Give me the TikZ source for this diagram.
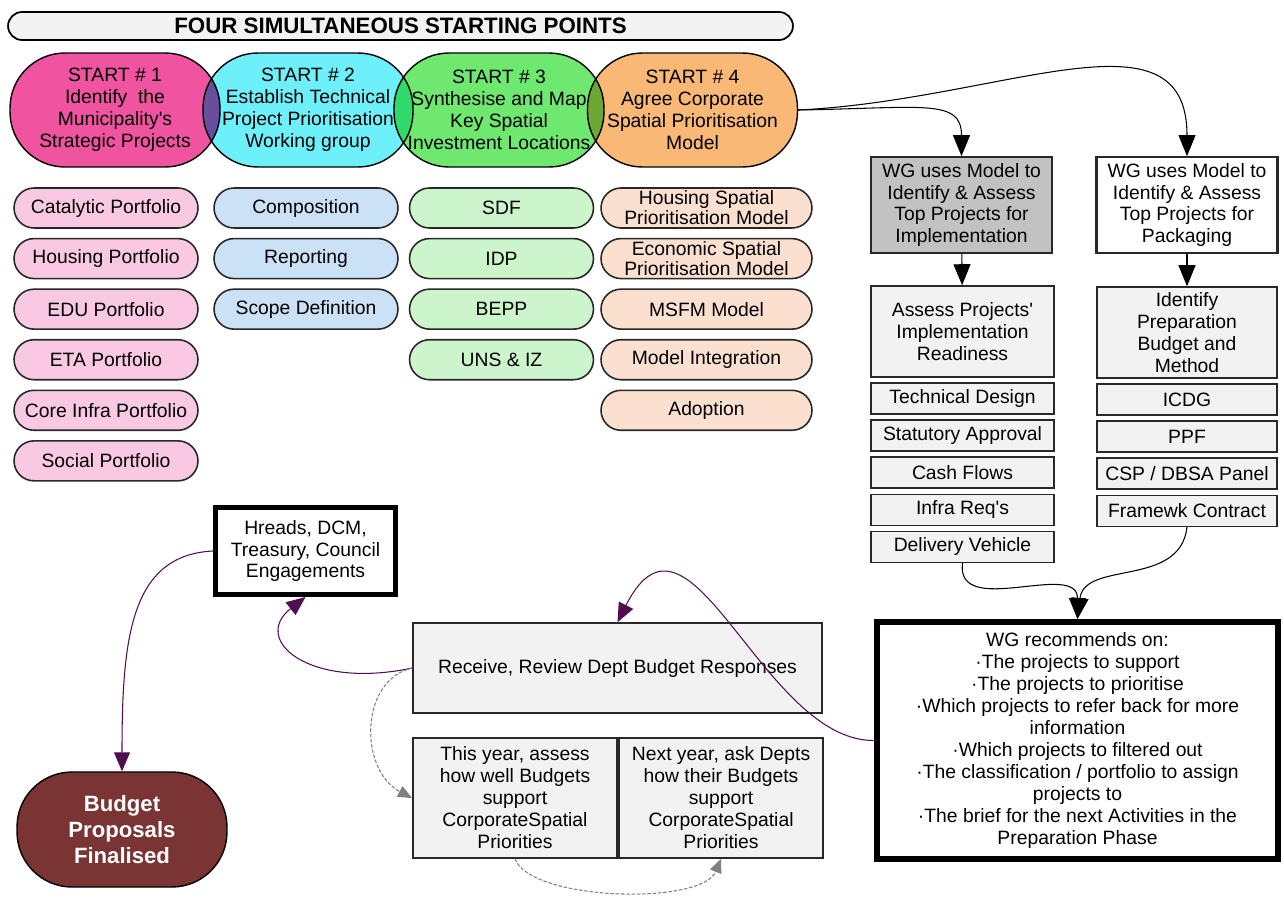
\documentclass[tikz,border=0pt]{standalone}
\usepackage{fontspec}
\setmainfont{Liberation Sans}[Ligatures=TeXOff]
\usetikzlibrary{%
	arrows.meta,%
	positioning,%
	calc,%
}
\definecolor{cpink}{RGB}{240, 84, 160}
\definecolor{cpinklight}{RGB}{249, 200, 226}
\definecolor{ccyan}{RGB}{110, 240, 250}
\definecolor{cbluelight}{RGB}{202, 225, 246}
\definecolor{cgreen}{RGB}{110, 232, 110}
\definecolor{cgreenlight}{RGB}{204, 245, 204}
\definecolor{corange}{RGB}{250, 184, 118}
\definecolor{cpeach}{RGB}{251, 224, 208}
\definecolor{cgrey}{RGB}{194, 194, 194}
\definecolor{cgreylight}{RGB}{242, 242, 242}
\definecolor{cmaroon}{RGB}{122, 52, 52}
\definecolor{cpurple}{RGB}{80, 14, 80}
\definecolor{cline}{RGB}{40, 40, 40}
\tikzset{
	>={Triangle[length=0.42cm, width=0.34cm]},%
	nodes={align=center, font={\fontsize{11}{12.5}\selectfont}},%
	banner/.style={%
			draw,%
			rectangle,%
			line width=1pt,%
			rounded corners=0.28cm,%
			minimum width=15.7cm,%
			minimum height=0.56cm,%
			fill=cgreylight,%
			font={\bfseries\fontsize{12.7}{14}\selectfont}},%
	startnode/.style={%
			draw,%
			rectangle,%
			line width=0.8pt,%
			rounded corners=1.1cm,%
			minimum width=4.2cm,%
			minimum height=2.28cm,%
			inner sep=0},%
	pill/.style={%
			draw=cline,%
			rectangle,%
			line width=0.9pt,%
			rounded corners=0.4cm,%
			minimum width=3.68cm,%
			minimum height=0.8cm,%
			inner ysep=0},%
	widepill/.style={%
			pill,%
			minimum width=4.22cm,%
			font={\fontsize{11}{11.3}\selectfont}},%
	wgbox/.style={%
			draw=cline,%
			rectangle,%
			line width=1.2pt,%
			minimum width=3.62cm,%
			minimum height=1.88cm},%
	stepbox/.style={%
			draw=cline,%
			rectangle,%
			line width=0.9pt,%
			fill=cgreylight,%
			minimum width=3.66cm,%
			minimum height=0.62cm,%
			inner ysep=0},%
	heavybox/.style={%
			draw,%
			rectangle,%
			fill=white},%
	flow/.style={->, cpurple, line width=0.6pt, >={Triangle[length=0.38cm, width=0.32cm]}},%
	link/.style={->, line width=0.6pt},%
	greylink/.style={->, gray, line width=0.6pt, dash pattern=on 2pt off 1pt, >={Triangle[length=0.28cm, width=0.24cm]}},%
}

\begin{document}
\begin{tikzpicture}[x=0.02cm, y=-0.02cm]
	\useasboundingbox (0,0) rectangle (1284,896);

	\node[banner] (title) at (400.5,26) {FOUR SIMULTANEOUS STARTING POINTS};

	\begin{scope}[blend group=multiply]
		\node[startnode, fill=cpink] (st1) at (115,110) {START \# 1\\Identify\ \ the\\Municipality's\\Strategic Projects};
		\node[startnode, fill=ccyan] (st2) at (308,110) {START \# 2\\Establish Technical\\Project Prioritisation\\Working group};
		\node[startnode, fill=cgreen] (st3) at (499,110) {START \# 3\\Synthesise and Map\\Key Spatial\\Investment Locations};
		\node[startnode, fill=corange] (st4) at (692.5,110) {START \# 4\\Agree Corporate\\Spatial Prioritisation\\Model};
	\end{scope}

	\node[pill, fill=cpinklight] (cat) at (106,208) {Catalytic Portfolio};
	\node[pill, fill=cpinklight] (hou) [below=0.18cm of cat] {Housing Portfolio};
	\node[pill, fill=cpinklight] (edu) [below=0.18cm of hou] {EDU Portfolio};
	\node[pill, fill=cpinklight] (eta) [below=0.18cm of edu] {ETA Portfolio};
	\node[pill, fill=cpinklight] (core) [below=0.18cm of eta] {Core Infra Portfolio};
	\node[pill, fill=cpinklight] (soc) [below=0.18cm of core] {Social Portfolio};

	\node[pill, fill=cbluelight] (comp) at (306,208) {Composition};
	\node[pill, fill=cbluelight] (rep) [below=0.18cm of comp] {Reporting};
	\node[pill, fill=cbluelight] (scd) [below=0.18cm of rep] {Scope Definition};

	\node[pill, fill=cgreenlight] (sdf) at (501.5,208) {SDF};
	\node[pill, fill=cgreenlight] (idp) [below=0.18cm of sdf] {IDP};
	\node[pill, fill=cgreenlight] (bepp) [below=0.18cm of idp] {BEPP};
	\node[pill, fill=cgreenlight] (uns) [below=0.18cm of bepp] {UNS \& IZ};

	\node[widepill, fill=cpeach] (hsm) at (706.5,208) {Housing Spatial\\Prioritisation Model};
	\node[widepill, fill=cpeach] (esm) [below=0.18cm of hsm] {Economic Spatial\\Prioritisation Model};
	\node[widepill, fill=cpeach] (msfm) [below=0.18cm of esm] {MSFM Model};
	\node[widepill, fill=cpeach] (mint) [below=0.18cm of msfm] {Model Integration};
	\node[widepill, fill=cpeach] (adopt) [below=0.18cm of mint] {Adoption};

	\node[wgbox, fill=cgrey] (wgi) at (961.5,205) {WG uses Model to\\Identify \& Assess\\Top Projects for\\Implementation};
	\node[wgbox, fill=white] (wgp) at (1187,205) {WG uses Model to\\Identify \& Assess\\Top Projects for\\Packaging};

	\node[stepbox, minimum height=1.82cm] (arr) at (962.5,331.5) {Assess Projects'\\Implementation\\Readiness};
	\node[stepbox] (td) [below=0.09cm of arr] {Technical Design};
	\node[stepbox] (sa) [below=0.09cm of td] {Statutory Approval};
	\node[stepbox] (cf) [below=0.09cm of sa] {Cash Flows};
	\node[stepbox] (irq) [below=0.09cm of cf] {Infra Req's};
	\node[stepbox] (dv) [below=0.09cm of irq] {Delivery Vehicle};

	\node[stepbox, minimum width=3.6cm, minimum height=1.82cm] (ipb) at (1187,332.5) {Identify\\Preparation\\Budget and\\Method};
	\node[stepbox, minimum width=3.6cm] (icdg) [below=0.09cm of ipb] {ICDG};
	\node[stepbox, minimum width=3.6cm] (ppf) [below=0.09cm of icdg] {PPF};
	\node[stepbox, minimum width=3.6cm] (csp) [below=0.09cm of ppf] {CSP / DBSA Panel};
	\node[stepbox, minimum width=3.6cm] (fwc) [below=0.09cm of csp] {Framewk Contract};

	\node[heavybox, line width=0.12cm, minimum width=8.04cm, minimum height=4.74cm] (wgr) at (1077.5,740.5) {WG recommends on:\\·The projects to support\\·The projects to prioritise\\·Which projects to refer back for more\\information\\·Which projects to filtered out\\·The classification / portfolio to assign\\projects to\\·The brief for the next Activities in the\\Preparation Phase};

	\node[heavybox, line width=0.1cm, minimum width=3.6cm, minimum height=1.74cm] (heng) at (305.5,551) {Hreads, DCM,\\Treasury, Council\\Engagements};

	\node[stepbox, minimum width=8.18cm, minimum height=1.8cm] (rev) at (617.5,668) {Receive, Review Dept Budget Responses};
	\node[stepbox, minimum width=4.09cm, minimum height=2.4cm] (ty) at (515,798) {This year, assess\\how well Budgets\\support\\CorporateSpatial\\Priorities};
	\node[stepbox, minimum width=4.09cm, minimum height=2.4cm] (ny) [right=0cm of ty] {Next year, ask Depts\\how their Budgets\\support\\CorporateSpatial\\Priorities};

	\node[startnode, fill=cmaroon, text=white, minimum height=2.3cm, font={\bfseries\fontsize{12.6}{14.7}\selectfont}] (bpf) at (122,829.5) {Budget\\Proposals\\Finalised};

	\draw[link] (st4.east) .. controls +(125,-2) and +(0,-58) .. (wgi.north);
	\draw[link] (st4.east) .. controls +(205,-10) and +(0,-153) .. (wgp.north);
	\draw[link] (wgi) to (arr);
	\draw[link] (wgp) to (ipb);
	\draw[link] (dv.south) .. controls +(-7,56) and +(0,-59) .. (wgr.north);
	\draw[link] (fwc.south) .. controls +(-7,61) and +(7,-59) .. (wgr.north);
	\draw[flow] (wgr.west) .. controls +(-112,0) and +(72,-143) .. (rev.north);
	\draw[flow] (rev.west) .. controls +(-103,22) and +(-55,43) .. (heng.south);
	\draw[flow] (heng.west) .. controls +(-83,4) and +(0,-132) .. (bpf.north);
	\draw[greylink] (rev.west) .. controls +(-53,12) and +(-53,-28) .. (ty.west);
	\draw[greylink] (ty.south) .. controls +(15,42) and +(-19.5,47) .. (ny.south);
\end{tikzpicture}
\end{document}
